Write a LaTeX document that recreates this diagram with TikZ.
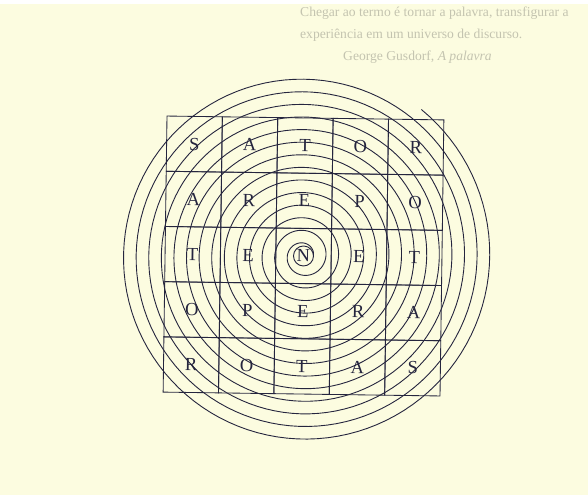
\documentclass[tikz,border=0pt]{standalone}
\usepackage{fontspec}
\setmainfont{Liberation Serif}
\usepackage{tikz}
\usetikzlibrary{positioning}
\definecolor{PageYellow}{HTML}{FCFCE0}
\definecolor{InkBlue}{HTML}{25253E}
\definecolor{GhostGray}{HTML}{C4C4B0}

\begin{document}
\begin{tikzpicture}[x=1pt, y=-1pt, every node/.style={font=\small},
  cell/.style={draw=InkBlue, line width=0.85pt, minimum size=55.3pt, inner sep=0pt, text=InkBlue, font=\fontsize{18.5}{19}\selectfont},
  spiral/.style={draw=InkBlue, line width=0.9pt},
  ghost/.style={text=GhostGray, anchor=base west, inner sep=0pt, font=\fontsize{13.6}{15}\selectfont}]
\fill[PageYellow] (0,0) rectangle (588,495);
\fill[white] (0,0) rectangle (588,4);
\useasboundingbox (0,0) rectangle (588,495);
% epigraph, faint on the page
\node[ghost] (quote1) at (300,17) {Chegar ao termo é tornar a palavra, transfigurar a};
\node[ghost] (quote2) at (300,39) {experiência em um universo de discurso.};
\node[ghost] (quote3) at (343,60) {George Gusdorf, \textit{A palavra}};
% sator square
\begin{scope}[rotate around={-0.8:(303.5,256)}, transform shape]
\foreach \row [count=\r] in {{S,A,T,O,R},{A,R,E,P,O},{T,E,N,E,T},{O,P,E,R,A},{R,O,T,A,S}}
  \foreach \ch [count=\c] in \row
    \node[cell] (c-\r-\c) at ({165+55.4*(\c-0.5)},{118+55.2*(\r-0.5)}) {\ch};
\draw[spiral] (c-3-3.center) circle (10);
% spiral out from the N
\begin{scope}[shift={(c-3-3.center)}]
\draw[spiral] plot[domain=0:5087, samples=1600] ({(10+\x/360*12.6)*cos(\x+5)}, {-(10+\x/360*12.6)*sin(\x+5)});
\end{scope}
\end{scope}
\end{tikzpicture}
\end{document}
